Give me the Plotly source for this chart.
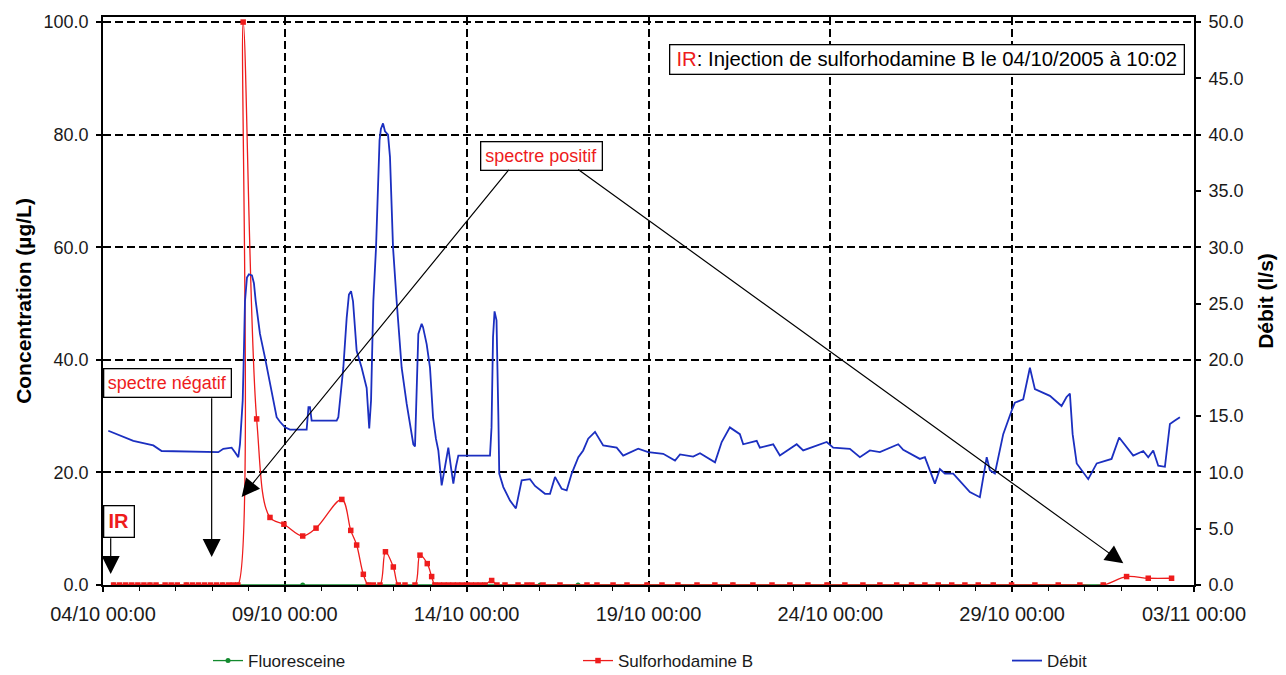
import pandas as pd
import plotly.graph_objects as go

FONT = "Liberation Sans, Arial, sans-serif"
START = pd.Timestamp("2005-10-04 00:00")
X_RANGE = ["2005-10-04 00:00", "2005-11-03 00:00"]
DAY_MS = 86400000

# Fluoresceine (µg/L) — hours elapsed since 04/10/2005 00:00
fluo_h = [7, 31, 55, 79, 89, 131.8, 175.1, 219, 252, 288.5, 313.5, 359.0,
          415.7, 477.8, 533.6, 587.5, 660.1]
fluo_c = [0, 0, 0, 0, 0, 0, 0, 0, 0, 0, 0, 0, 0, 0, 0, 0, 0]

# Sulforhodamine B (µg/L)
sulfo_h = [7, 11, 15, 19, 23, 27, 31, 35, 41, 45, 49, 55, 59, 63, 67, 71, 75, 79, 83, 86, 89,
           92.5, 101.4, 110.2, 119.4, 131.8, 140.6, 157.6, 163.5, 167.4, 171.8,
           175.1, 178.4, 182.8, 186.4, 191.6, 194.9, 199.3, 205.9, 209.2, 214.0, 216.9,
           219, 222, 225, 228, 231, 234, 237, 240, 243, 246, 249, 252, 256.5, 260,
           265.3, 273.9, 279.8, 283.1, 290.4, 301.6, 319.4, 326.0, 336.6, 345.8,
           359.0, 368.9, 379.4, 392.0, 403.8, 415.7, 428.9, 441.5, 453.3, 465.2,
           477.8, 489.6, 501.5, 512.7, 523.8, 533.6, 542.4, 551.2, 560.1, 568.8,
           577.6, 587.5, 599.6, 615.0, 630.4, 644.7, 660.1, 675.5, 689.8, 705.2]
sulfo_c = [0, 0, 0, 0, 0, 0, 0, 0, 0, 0, 0, 0, 0, 0, 0, 0, 0, 0, 0, 0, 0,
           100.0, 29.5, 12.0, 10.8, 8.7, 10.1, 15.2, 9.7, 7.1, 1.9,
           0, 0, 0, 5.9, 3.2, 0, 0, 0, 5.3, 3.8, 1.5,
           0, 0, 0, 0, 0, 0, 0, 0, 0, 0, 0, 0, 0.8, 0,
           0, 0, 0, 0, 0, 0, 0, 0, 0, 0,
           0, 0, 0, 0, 0, 0, 0, 0, 0, 0,
           0, 0, 0, 0, 0, 0, 0, 0, 0, 0,
           0, 0, 0, 0, 0, 0, 0, 1.5, 1.2, 1.2]

# Débit (l/s)
debit_h = [3.5, 9.0, 13.4, 20.0, 26.6, 33.2, 38.7, 76.1, 79.4, 84.9, 87.1, 89.3, 90.4,
           92.2, 93.0, 93.7, 95.0, 96.3, 98.3, 99.6, 100.8, 103.6, 106.9, 110.2, 112.2,
           114.6, 116.8, 120.1, 123.4, 130.0, 134.4, 135.6, 136.6, 137.7, 154.2, 155.3,
           158.6, 160.8, 162.3, 163.7, 165.0, 167.4, 170.7, 174.0, 175.7, 176.9, 178.4,
           180.2, 181.5, 182.5, 183.4, 184.8, 186.1, 188.1, 189.4, 190.4, 191.4, 193.8,
           197.1, 200.4, 202.6, 204.8, 205.9, 206.9, 208.1, 210.3, 211.2, 213.6, 215.8,
           217.8, 219.7, 221.3, 223.5, 225.7, 227.9, 229.6, 231.2, 232.9, 234.5, 255.4,
           256.4, 257.4, 258.4, 259.7, 260.3, 260.9, 261.5, 264.2, 268.6, 272.5, 276.3,
           281.8, 285.1, 291.7, 295.0, 298.3, 302.7, 306.0, 309.3, 313.7, 316.9, 320.2,
           324.7, 330.1, 339.0, 343.3, 353.2, 359.8, 369.7, 377.5, 380.8, 389.5, 394.0,
           403.9, 408.3, 413.7, 420.3, 422.5, 431.4, 433.5, 442.3, 446.7, 457.8, 462.1,
           477.6, 481.9, 492.9, 499.5, 506.1, 512.7, 524.8, 528.1, 539.1, 542.4, 549.0,
           552.3, 555.6, 561.1, 572.1, 578.7, 583.2, 585.3, 588.6, 594.1, 599.7, 601.8,
           607.3, 611.7, 615.0, 624.9, 632.6, 635.9, 638.1, 639.9, 642.6, 650.2, 655.8,
           665.6, 670.6, 679.9, 686.5, 689.8, 693.1, 696.4, 700.8, 704.1, 707.4, 710.7]
debit_q = [13.7, 13.4, 13.1, 12.8, 12.6, 12.4, 11.9, 11.8, 12.1, 12.2, 11.8, 11.35, 12.5,
           16.4, 20.8, 25.2, 27.3, 27.6, 27.5, 26.8, 25.2, 22.3, 20.2, 17.85, 16.5,
           14.9, 14.5, 14.0, 13.8, 13.8, 13.8, 15.8, 15.8, 14.6, 14.6, 14.9,
           19.3, 23.7, 25.8, 26.1, 25.2, 20.8, 19.3, 17.5, 13.9, 16.4, 25.2,
           30.0, 35.5, 39.5, 40.5, 41.0, 40.3, 40.0, 38.0, 34.0, 30.0, 25.2,
           19.3, 16.1, 14.2, 12.5, 12.3, 17.0, 22.3, 23.2, 22.9, 21.4, 19.3,
           14.9, 13.0, 11.95, 8.85, 10.5, 12.2, 10.5, 9.0, 10.5, 11.5, 11.5,
           14.0, 22.0, 24.3, 23.5, 20.0, 15.1, 9.9, 8.7, 7.5, 6.8, 9.3,
           9.4, 8.8, 8.1, 8.1, 9.6, 8.55, 8.4, 9.9, 11.35, 11.95, 13.0,
           13.6, 12.4, 12.2, 11.5, 12.1, 11.8, 11.65, 11.06, 11.6, 11.4, 11.7,
           10.9, 12.7, 14.0, 13.4, 12.5, 12.8, 12.2, 12.5, 11.5, 12.5, 11.95,
           12.7, 12.2, 12.1, 11.35, 11.95, 11.8, 12.5, 12.0, 11.2, 11.35, 9.0,
           10.3, 9.9, 9.9, 8.26, 7.8, 11.35, 10.2, 9.9, 13.4, 15.5, 16.2,
           16.5, 19.3, 17.4, 16.8, 15.9, 16.7, 17.0, 13.4, 10.8, 9.4, 10.8,
           11.2, 13.1, 11.5, 11.9, 11.35, 11.95, 10.6, 10.5, 14.3, 14.6, 14.9]


def to_dates(hours):
    return [START + pd.Timedelta(hours=h) for h in hours]


GREEN = "#138a2e"
RED = "#ee1c1c"
BLUE = "#1b2fc0"
INK = "#1a1a1a"

fig = go.Figure()
fig.add_trace(go.Scatter(
    x=to_dates(fluo_h), y=fluo_c, name="Fluoresceine", mode="lines+markers",
    line=dict(color=GREEN, width=1.3),
    marker=dict(symbol="circle", size=5, color=GREEN),
    legend="legend",
))
fig.add_trace(go.Scatter(
    x=to_dates(sulfo_h), y=sulfo_c, name="Sulforhodamine B", mode="lines+markers",
    line=dict(color=RED, width=1.3, shape="spline", smoothing=1.0),
    marker=dict(symbol="square", size=5.5, color=RED),
    legend="legend2",
))
fig.add_trace(go.Scatter(
    x=to_dates(debit_h), y=debit_q, name="Débit", mode="lines",
    line=dict(color=BLUE, width=1.8),
    yaxis="y2", legend="legend3",
))

grid = dict(showgrid=True, gridcolor="black", gridwidth=1.5, griddash="8px,4px")
axis_line = dict(showline=True, linecolor="black", linewidth=1.8, zeroline=False)

fig.update_layout(
    width=1286, height=675,
    margin=dict(l=103, r=92, t=15, b=90),
    paper_bgcolor="white", plot_bgcolor="white",
    font=dict(family=FONT, color=INK),
    xaxis=dict(
        type="date", range=X_RANGE, tick0=X_RANGE[0], dtick=5 * DAY_MS,
        tickformat="%d/%m %H:%M", tickfont=dict(size=20, color=INK),
        ticks="outside", ticklen=5, tickwidth=1.5, tickcolor="black",
        ticklabelstandoff=5,
        minor=dict(dtick=DAY_MS, tick0=X_RANGE[0], ticks="outside", ticklen=4,
                   tickwidth=1.2, tickcolor="black", showgrid=False),
        mirror=True, **grid, **axis_line,
    ),
    yaxis=dict(
        range=[0, 100.9], tick0=0, dtick=20, tickformat=".1f",
        tickfont=dict(size=18, color=INK),
        ticks="outside", ticklen=5, tickwidth=1.5, tickcolor="black",
        ticklabelstandoff=4,
        title=dict(text="Concentration (µg/L)", standoff=6,
                   font=dict(size=21, weight="bold", color="black")),
        **grid, **axis_line,
    ),
    yaxis2=dict(
        overlaying="y", side="right", anchor="x",
        range=[0, 50.45], tick0=0, dtick=5, tickformat=".1f",
        tickfont=dict(size=18, color=INK),
        ticks="outside", ticklen=5, tickwidth=1.5, tickcolor="black",
        ticklabelstandoff=4, showgrid=False,
        title=dict(text="Débit (l/s)", standoff=16,
                   font=dict(size=21, weight="bold", color="black")),
        **axis_line,
    ),
    # inner halves of the crossing tick marks
    xaxis2=dict(overlaying="x", anchor="y", side="bottom", type="date", range=X_RANGE,
                tick0=X_RANGE[0], dtick=5 * DAY_MS, ticks="inside", ticklen=5,
                tickwidth=1.5, tickcolor="black", showticklabels=False,
                showgrid=False, showline=False, zeroline=False),
    yaxis3=dict(overlaying="y", anchor="x", side="left", range=[0, 100.9], tick0=0,
                dtick=20, ticks="inside", ticklen=5, tickwidth=1.5, tickcolor="black",
                showticklabels=False, showgrid=False, showline=False, zeroline=False),
    yaxis4=dict(overlaying="y", anchor="x", side="right", range=[0, 50.45], tick0=0,
                dtick=5, ticks="inside", ticklen=5, tickwidth=1.5, tickcolor="black",
                showticklabels=False, showgrid=False, showline=False, zeroline=False),
    showlegend=True,
)

legend_common = dict(xref="container", yref="container", y=0.0207, yanchor="middle",
                     xanchor="left", orientation="h", bgcolor="rgba(0,0,0,0)",
                     font=dict(size=17, family=FONT, color=INK))
fig.update_layout(
    legend=dict(x=208 / 1286, **legend_common),
    legend2=dict(x=578 / 1286, **legend_common),
    legend3=dict(x=1007 / 1286, **legend_common),
)

# text boxes
box = dict(xref="paper", yref="paper", xanchor="center", yanchor="middle",
           showarrow=False, bordercolor="black", borderwidth=1.3, borderpad=0,
           bgcolor="white")
fig.add_annotation(
    x=0.7557, y=0.926, width=513, height=28,
    text=f'<span style="color:{RED}">IR</span>: Injection de sulforhodamine B le 04/10/2005 à 10:02',
    font=dict(size=20.3, family=FONT, color="black"), **box)
fig.add_annotation(x=0.4016, y=0.7558, width=120, height=27, text="spectre positif",
                   font=dict(size=18, family=FONT, color=RED), **box)
fig.add_annotation(x=0.0591, y=0.3553, width=126, height=27, text="spectre négatif",
                   font=dict(size=18, family=FONT, color=RED), **box)
fig.add_annotation(x=0.01448, y=0.1126, width=29, height=30, text="<b>IR</b>",
                   font=dict(size=20, family=FONT, color=RED), **box)

# arrows (head position in paper units, tail offset in pixels)
arrow = dict(xref="paper", yref="paper", text="", showarrow=True, arrowhead=2,
             arrowsize=3.0, arrowwidth=1.2, arrowcolor="black", standoff=0)
for hx, hy, ax, ay in [(0.1271, 0.1549, 268.3, -328.7),
                       (0.9352, 0.0381, -546.6, -395.0),
                       (0.0996, 0.0491, 0, -160.3),
                       (0.00706, 0.0193, 0, -37.3)]:
    fig.add_annotation(x=hx, y=hy, ax=ax, ay=ay, **arrow)

fig.write_html("out.html", config={"displayModeBar": False})
